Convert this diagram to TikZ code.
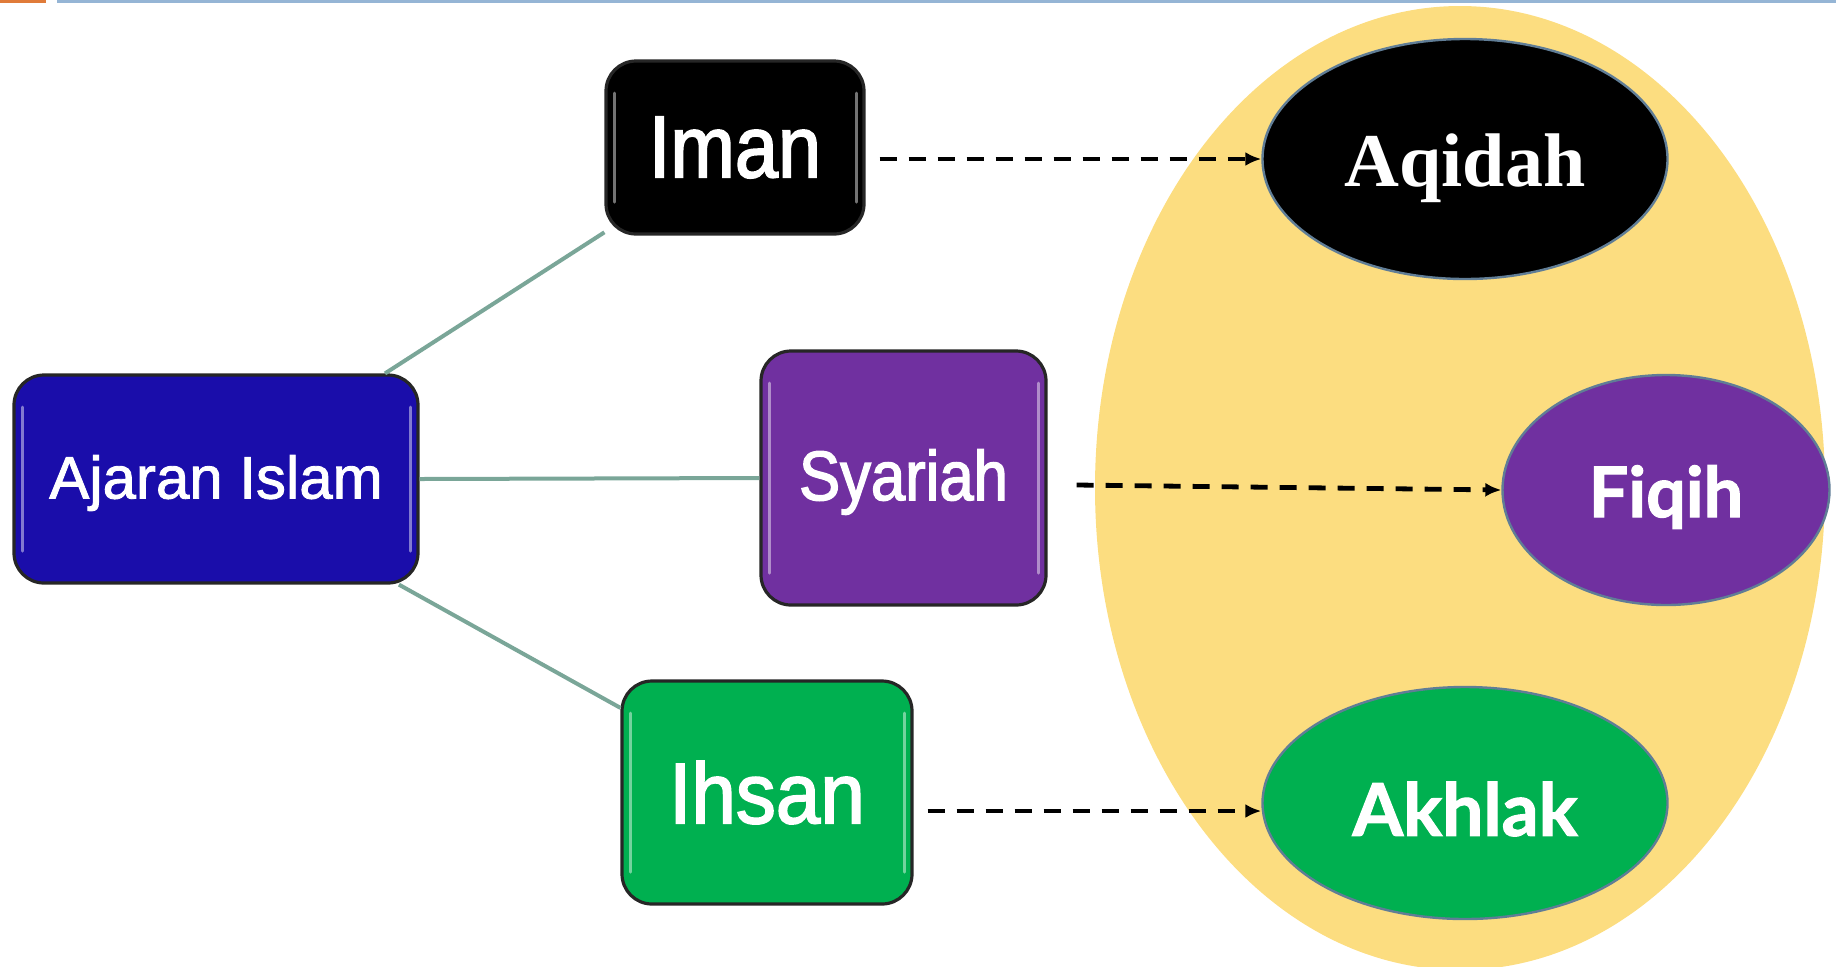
\documentclass[tikz,border=0pt]{standalone}
\usepackage{fontspec}
\setmainfont{Liberation Sans}[FakeBold=1.2]
\newfontfamily\ajaranf[FakeBold=1.5]{Liberation Sans}
\newfontfamily\narrowf[FakeStretch=0.88,FakeBold=2]{Liberation Sans}
\newfontfamily\ihsanf[FakeStretch=0.93,FakeBold=2]{Liberation Sans}
\newfontfamily\serifbf{Liberation Serif}
\newfontfamily\latof[BoldFeatures={FakeBold=1.5}]{Lato}
\usetikzlibrary{shapes.geometric,arrows.meta,calc}
\definecolor{ajblue}{RGB}{26,13,170}
\definecolor{sypurple}{RGB}{112,48,160}
\definecolor{ihgreen}{RGB}{0,176,80}
\definecolor{sunyellow}{RGB}{252,221,128}
\definecolor{ovalline}{RGB}{96,125,150}
\definecolor{linkc}{RGB}{122,166,152}
\definecolor{barblue}{RGB}{149,181,213}
\definecolor{barorange}{RGB}{224,123,57}
\newcommand{\lowered}[2]{\raisebox{-#1}[\height][\depth]{#2}}
\tikzset{
  box/.style={rectangle, rounded corners=15pt, draw=black!85, line width=1.6pt,
    text=white, inner sep=0pt,
    path picture={
      \draw[white, opacity=.45, line width=1.5pt, line cap=round]
        ([xshift=4pt,yshift=-16pt]path picture bounding box.north west) --
        ([xshift=4pt,yshift=16pt]path picture bounding box.south west);
      \draw[white, opacity=.45, line width=1.5pt, line cap=round]
        ([xshift=-4pt,yshift=-16pt]path picture bounding box.north east) --
        ([xshift=-4pt,yshift=16pt]path picture bounding box.south east);
    }},
  oval/.style={ellipse, draw=ovalline, line width=1.2pt, inner sep=0pt, text=white},
  link/.style={draw=linkc, line width=2pt},
  flow/.style={draw=black, line width=2.4pt, dash pattern=on 8.5pt off 6pt,
    -{Latex[length=8pt,width=7pt]}}
}
\begin{document}
\begin{tikzpicture}[x=0.5pt,y=-0.5pt]
\useasboundingbox (0,0) rectangle (1836,966);
% top bar
\fill[barorange] (0,0) rectangle (46,3);
\fill[barblue] (57,0) rectangle (1836,3);
% group ellipse
\node[ellipse, fill=sunyellow, minimum width=365pt, minimum height=482pt, inner sep=0pt] (group) at (1460,488) {};
% boxes
\node[box, fill=ajblue, minimum width=202pt, minimum height=104pt] (ajaran) at (216,479)
  {\lowered{2pt}{\ajaranf\fontsize{30}{34}\selectfont Ajaran Islam}};
\node[box, fill=black, minimum width=129pt, minimum height=86.5pt] (iman) at (735,147.5)
  {\narrowf\fontsize{44}{48}\selectfont Iman};
\node[box, fill=sypurple, minimum width=142.5pt, minimum height=127pt] (syariah) at (903.5,478)
  {\lowered{2pt}{\narrowf\fontsize{35}{40}\selectfont Syariah}};
\node[box, fill=ihgreen, minimum width=145pt, minimum height=111.5pt] (ihsan) at (767,792.5)
  {\ihsanf\fontsize{43}{48}\selectfont Ihsan};
% ovals
\node[oval, fill=black, minimum width=202.5pt, minimum height=120pt] (aqidah) at (1465,159)
  {\lowered{4.5pt}{\serifbf\bfseries\fontsize{38}{42}\selectfont Aqidah}};
\node[oval, fill=sypurple, minimum width=163.5pt, minimum height=115pt] (fiqih) at (1666,490)
  {\lowered{3.5pt}{\latof\bfseries\fontsize{35}{40}\selectfont Fiqih}};
\node[oval, fill=ihgreen, minimum width=202.5pt, minimum height=116pt] (akhlak) at (1465,803)
  {\lowered{3pt}{\latof\bfseries\fontsize{36.5}{40}\selectfont Akhlak}};
% links
\draw[link] (ajaran.32) -- (iman.213);
\draw[link] (ajaran.east) -- (syariah.west);
\draw[link] (ajaran.-30) -- (ihsan.150);
% dashed arrows
\draw[flow] ($(iman.east |- aqidah.west)+(14,0)$) -- (aqidah.west);
\draw[flow] ($(syariah.east)+(29,7)$) -- (fiqih.west);
\draw[flow] ($(ihsan.east |- akhlak.west)+(14,8)$) -- ($(akhlak.west)+(0,8)$);
\end{tikzpicture}
\end{document}
